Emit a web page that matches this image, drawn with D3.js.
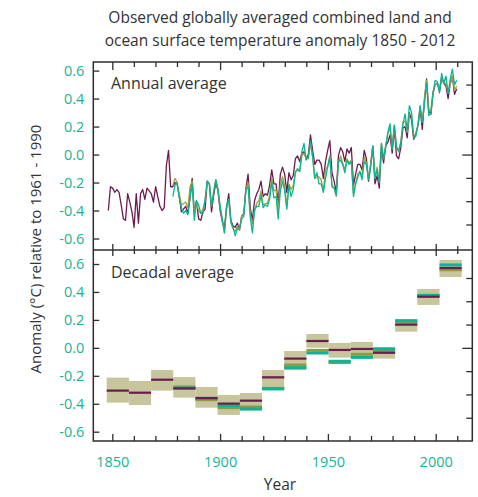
<!DOCTYPE html>
<html><head><meta charset="utf-8">
<script src="https://cdn.jsdelivr.net/npm/d3@7"></script>
<style>body{margin:0;background:#fff}</style>
</head><body><svg id="c" width="478" height="497"></svg>
<script>
// ---------------- data ----------------
const titleLines = ["Observed globally averaged combined land and", "ocean surface temperature anomaly 1850 - 2012"];
const yLabel = "Anomaly (°C) relative to 1961 - 1990";
const xLabel = "Year";
const panelLabels = ["Annual average", "Decadal average"];

const xTickYears = [1850,1860,1870,1880,1890,1900,1910,1920,1930,1940,1950,1960,1970,1980,1990,2000,2010];
const xMajorYears = [1850,1900,1950,2000];
const xTickLabels = ["1850","1900","1950","2000"];
const yTickValues = [0.6,0.4,0.2,0.0,-0.2,-0.4,-0.6];
const yTickLabels = ["0.6","0.4","0.2","0.0","-0.2","-0.4","-0.6"];
const rightTickValuesF = [0.9,0.6,0.3,0,-0.3,-0.6,-0.9];

// Annual series (°C, relative to 1961-1990)
const hadStart = 1850;
const hadcrut = [
-0.40,-0.23,-0.24,-0.27,-0.25,-0.27,-0.36,-0.46,-0.47,-0.28,
-0.34,-0.41,-0.52,-0.28,-0.49,-0.28,-0.25,-0.32,-0.24,-0.26,
-0.28,-0.34,-0.23,-0.30,-0.37,-0.40,-0.38,-0.08,0.03,-0.23,
-0.23,-0.20,-0.21,-0.30,-0.41,-0.39,-0.37,-0.42,-0.31,-0.17,
-0.42,-0.33,-0.46,-0.47,-0.41,-0.39,-0.19,-0.21,-0.41,-0.29,
-0.20,-0.26,-0.40,-0.48,-0.52,-0.38,-0.28,-0.47,-0.51,-0.52,
-0.49,-0.54,-0.44,-0.42,-0.24,-0.14,-0.38,-0.47,-0.33,-0.28,
-0.25,-0.19,-0.30,-0.28,-0.29,-0.22,-0.11,-0.21,-0.21,-0.35,
-0.14,-0.09,-0.14,-0.27,-0.13,-0.18,-0.15,-0.03,-0.01,-0.05,
0.01,0.02,-0.03,0.00,0.14,0.03,-0.07,-0.04,-0.04,-0.07,
-0.17,-0.05,0.03,0.10,-0.13,-0.19,-0.27,-0.01,0.05,0.02,
-0.05,0.04,0.01,0.05,-0.22,-0.14,-0.07,-0.07,-0.11,0.03,
-0.03,-0.19,-0.07,0.06,-0.21,-0.15,-0.24,0.05,-0.06,0.06,
0.09,0.14,0.01,0.19,-0.01,-0.03,0.05,0.19,0.20,0.12,
0.30,0.25,0.11,0.15,0.21,0.33,0.18,0.39,0.54,0.31,
0.29,0.44,0.50,0.51,0.45,0.55,0.51,0.49,0.40,0.51,
0.56,0.43,0.47];

const otherStart = 1880;
const mlost = [
-0.22,-0.17,-0.20,-0.28,-0.36,-0.35,-0.34,-0.38,-0.23,-0.19,
-0.42,-0.35,-0.40,-0.42,-0.39,-0.33,-0.20,-0.21,-0.37,-0.26,
-0.18,-0.25,-0.37,-0.47,-0.56,-0.39,-0.32,-0.49,-0.53,-0.55,
-0.51,-0.54,-0.44,-0.43,-0.25,-0.20,-0.42,-0.50,-0.40,-0.35,
-0.33,-0.26,-0.36,-0.35,-0.35,-0.29,-0.17,-0.26,-0.25,-0.40,
-0.21,-0.16,-0.22,-0.37,-0.21,-0.25,-0.22,-0.12,-0.11,-0.12,
-0.01,0.01,-0.02,-0.03,0.08,-0.02,-0.17,-0.16,-0.16,-0.18,
-0.26,-0.11,-0.08,-0.01,-0.22,-0.24,-0.30,-0.06,-0.01,-0.06,
-0.11,-0.03,-0.06,-0.04,-0.28,-0.21,-0.14,-0.12,-0.15,-0.02,
-0.06,-0.17,-0.07,0.06,-0.17,-0.09,-0.20,0.08,-0.03,0.06,
0.15,0.19,0.04,0.21,0.05,0.03,0.09,0.23,0.24,0.16,
0.29,0.28,0.13,0.15,0.21,0.34,0.23,0.40,0.53,0.32,
0.32,0.45,0.50,0.51,0.47,0.55,0.51,0.51,0.44,0.50,
0.56,0.46,0.49];
const giss = [
-0.30,-0.22,-0.20,-0.31,-0.38,-0.42,-0.40,-0.43,-0.30,-0.21,
-0.47,-0.33,-0.36,-0.42,-0.42,-0.32,-0.19,-0.21,-0.37,-0.27,
-0.18,-0.25,-0.37,-0.46,-0.56,-0.36,-0.32,-0.48,-0.52,-0.58,
-0.53,-0.53,-0.46,-0.44,-0.25,-0.23,-0.45,-0.56,-0.40,-0.37,
-0.37,-0.29,-0.38,-0.36,-0.37,-0.32,-0.20,-0.31,-0.30,-0.46,
-0.26,-0.19,-0.26,-0.39,-0.22,-0.30,-0.25,-0.13,-0.10,-0.12,
0.02,0.08,-0.04,-0.02,0.10,-0.01,-0.17,-0.13,-0.21,-0.21,
-0.27,-0.17,-0.09,-0.02,-0.23,-0.24,-0.29,-0.05,-0.04,-0.07,
-0.13,-0.04,-0.07,-0.05,-0.30,-0.21,-0.16,-0.12,-0.18,-0.05,
-0.07,-0.18,-0.09,0.06,-0.17,-0.11,-0.20,0.08,-0.03,0.06,
0.16,0.22,0.04,0.21,0.06,0.02,0.08,0.22,0.29,0.17,
0.35,0.30,0.12,0.13,0.21,0.35,0.23,0.36,0.51,0.28,
0.29,0.44,0.53,0.52,0.44,0.58,0.51,0.56,0.44,0.54,
0.61,0.50,0.53];

// Decadal series
const decades = [1850,1860,1870,1880,1890,1900,1910,1920,1930,1940,1950,1960,1970,1980,1990,2000];
const hadDec  = [-0.306,-0.321,-0.228,-0.290,-0.359,-0.399,-0.378,-0.211,-0.077,0.049,-0.015,-0.008,-0.035,0.166,0.366,0.571];
const boxHi   = [-0.213,-0.237,-0.159,-0.209,-0.280,-0.337,-0.323,-0.159,-0.023,0.099,0.035,0.042,0.006,0.206,0.421,0.629];
const boxLo   = [-0.392,-0.409,-0.306,-0.356,-0.428,-0.480,-0.449,-0.302,-0.159,0.001,-0.070,-0.077,-0.077,0.116,0.307,0.507];
const mlostDec= [null,null,null,-0.280,-0.371,-0.428,-0.423,-0.290,-0.123,-0.018,-0.105,-0.046,-0.022,0.183,0.372,0.559];
const gissDec = [null,null,null,-0.288,-0.362,-0.414,-0.437,-0.294,-0.142,-0.037,-0.096,-0.068,-0.008,0.194,0.376,0.593];

// ---------------- styles ----------------
const FONT = "'Open Sans', 'Noto Sans', sans-serif";
const C = {purple:"#6b1b4e", olive:"#a3a23e", oliveBar:"#8f9a45", teal:"#0db396",
           box:"#c6c59c", frame:"#2e2e2e", tickText:"#19b395", text:"#333"};

const svg = d3.select("#c");
const L = 93.3, R = 472.3, T = 62, M = 250, B = 441;

// scales
const xTick = d3.scaleLinear().domain([1850, 2000]).range([112.3, 435.7]);
const xAnnual = d3.scaleLinear().domain([1850, 2012]).range([108.3, 456.7]);
const xDecade = d3.scaleLinear().domain([1850, 2010]).range([106.7, 461.7]);
const yTop = d3.scaleLinear().domain([-0.6, 0.6]).range([238.5, 70.6]);
const yBot = d3.scaleLinear().domain([-0.6, 0.6]).range([431.7, 264.0]);
const yTopF = d3.scaleLinear().domain([-0.6*1.8, 0.6*1.8]).range(yTop.range());
const yBotF = d3.scaleLinear().domain([-0.6*1.8, 0.6*1.8]).range(yBot.range());

// ---------------- decadal panel ----------------
const gD = svg.append("g");
gD.selectAll("rect.box").data(decades).join("rect").attr("class","box")
  .attr("x", d => xDecade(d)).attr("width", d => xDecade(d+10) - xDecade(d))
  .attr("y", (d,i) => yBot(boxHi[i])).attr("height", (d,i) => yBot(boxLo[i]) - yBot(boxHi[i]))
  .attr("fill", C.box);
function bars(vals, color, h) {
  gD.selectAll(null).data(decades.map((d,i)=>({d, v: vals[i]})).filter(o => o.v !== null)).join("rect")
    .attr("x", o => xDecade(o.d)).attr("width", o => xDecade(o.d+10) - xDecade(o.d))
    .attr("y", o => yBot(o.v) - h/2).attr("height", h).attr("fill", color);
}
bars(mlostDec, C.oliveBar, 3);
bars(gissDec, C.teal, 3);
bars(hadDec, C.purple, 2.2);

// ---------------- annual panel ----------------
const line = d3.line().x(d => xAnnual(d.y)).y(d => yTop(d.v));
const toPts = (arr, start) => arr.map((v,i) => ({y: start + i, v}));
const gA = svg.append("g").attr("fill","none").attr("stroke-width",1.3).attr("stroke-linejoin","round");
gA.append("path").attr("d", line(toPts(hadcrut, hadStart))).attr("stroke", C.purple);
gA.append("path").attr("d", line(toPts(mlost, otherStart))).attr("stroke", C.olive);
gA.append("path").attr("d", line(toPts(giss, otherStart))).attr("stroke", C.teal);

// ---------------- axes ----------------
function styleAxis(g) {
  g.select(".domain").remove();
  g.selectAll("line").attr("stroke", C.frame).attr("stroke-width", 1.3);
  g.selectAll("text").attr("fill", C.tickText).style("font-family", FONT).style("font-size","14.5px");
}
function majorLen(g, len, dir) {
  g.selectAll(".tick").filter(d => xMajorYears.includes(d)).select("line").attr("y2", dir*len);
}
// x ticks: top edge (down), boundary (up & down), bottom edge (up, with labels)
const axTop = svg.append("g").attr("transform",`translate(0,${T})`)
  .call(d3.axisTop(xTick).tickValues(xTickYears).tickSize(-5).tickFormat("")).call(styleAxis);
majorLen(axTop, 8, 1);
const axMidUp = svg.append("g").attr("transform",`translate(0,${M})`)
  .call(d3.axisBottom(xTick).tickValues(xTickYears).tickSize(-4).tickFormat("")).call(styleAxis);
majorLen(axMidUp, 6, -1);
const axMidDn = svg.append("g").attr("transform",`translate(0,${M})`)
  .call(d3.axisTop(xTick).tickValues(xTickYears).tickSize(-4).tickFormat("")).call(styleAxis);
majorLen(axMidDn, 6, 1);
const axBot = svg.append("g").attr("transform",`translate(0,${B})`)
  .call(d3.axisBottom(xTick).tickValues(xTickYears).tickSize(-5).tickPadding(16)
        .tickFormat(d => { const k = xMajorYears.indexOf(d); return k >= 0 ? xTickLabels[k] : ""; }))
  .call(styleAxis);
majorLen(axBot, 7, -1);

// y ticks left
[yTop, yBot].forEach(ys => {
  svg.append("g").attr("transform",`translate(${L},0)`)
    .call(d3.axisLeft(ys).tickValues(yTickValues).tickSize(-6).tickPadding(9)
      .tickFormat((d,i) => yTickLabels[i])).call(styleAxis);
});
// right ticks (secondary scale, no labels)
[yTopF, yBotF].forEach(ys => {
  const g = svg.append("g").attr("transform",`translate(${R},0)`)
    .call(d3.axisRight(ys).tickValues(rightTickValuesF).tickSize(-6).tickFormat("")).call(styleAxis);
  g.selectAll(".tick").filter(d => d === 0).select("line").attr("x2", -10);
});

// frame
svg.append("rect").attr("x",L).attr("y",T).attr("width",R-L).attr("height",B-T)
  .attr("fill","none").attr("stroke",C.frame).attr("stroke-width",1.5);
svg.append("line").attr("x1",L).attr("x2",R).attr("y1",M).attr("y2",M)
  .attr("stroke",C.frame).attr("stroke-width",1.5);

// ---------------- text ----------------
svg.append("g").selectAll("text").data(titleLines).join("text")
  .attr("x", 280).attr("y", (d,i) => 23 + i*23).attr("text-anchor","middle")
  .style("font-family", FONT).style("font-size","15.5px").attr("fill", C.text).text(d => d);
svg.append("text").attr("x", 111).attr("y", 89).style("font-family", FONT).style("font-size","16px")
  .attr("fill", C.text).text(panelLabels[0]);
svg.append("text").attr("x", 111).attr("y", 278).style("font-family", FONT).style("font-size","16px")
  .attr("fill", C.text).text(panelLabels[1]);
svg.append("text").attr("x", 280).attr("y", 490).attr("text-anchor","middle")
  .style("font-family", FONT).style("font-size","15.5px").attr("fill", C.text).text(xLabel);
svg.append("text").attr("transform","translate(41,249) rotate(-90)").attr("text-anchor","middle")
  .style("font-family", FONT).style("font-size","15px").attr("fill", C.text).text(yLabel);
</script></body></html>
